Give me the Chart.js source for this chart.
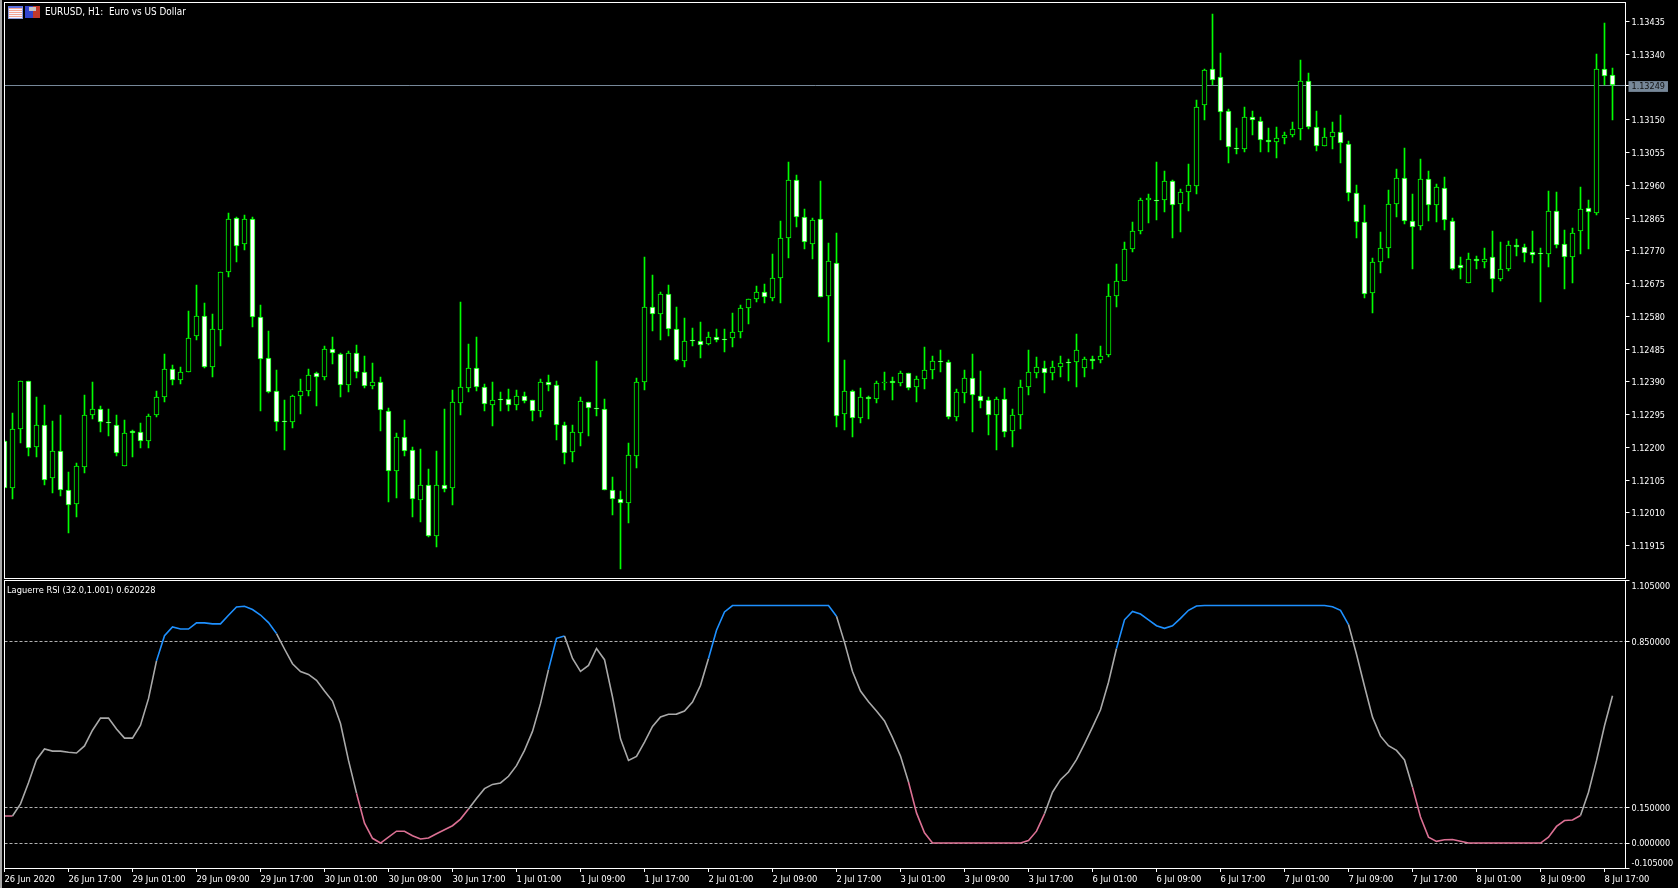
<!DOCTYPE html>
<html>
<head>
<meta charset="utf-8">
<title>EURUSD, H1</title>
<script src="https://cdn.jsdelivr.net/npm/chart.js@4/dist/chart.umd.min.js"></script>
<style>
  html, body { margin: 0; background: #000; overflow: hidden; }
  canvas { position: absolute; left: 0; }
  .caption { position: absolute; color: #fff; font: 9.9px 'DejaVu Sans Condensed', 'DejaVu Sans', sans-serif; white-space: pre; line-height: 12px; }
  #edge { position: absolute; left: 0; top: 0; width: 2px; height: 888px; background: #a8a8a8; }
  #iconTable { position: absolute; left: 8px; top: 6px; width: 13px; height: 10px; border: 1px solid #8f9bd8; border-top: 2px solid #5a6ee0; background: repeating-linear-gradient(#f3a493 0 1px, #f5f5ff 1px 2px); }
  #iconTools { position: absolute; left: 25px; top: 6px; width: 15px; height: 12px; background: linear-gradient(90deg, #3344cc 0 50%, #c0392b 50% 100%); }
  #iconTools::before { content: ''; position: absolute; left: 4px; top: 1px; width: 7px; height: 4px; background: #c4c4c4; }
</style>
</head>
<body>
<div id="edge"></div>
<canvas id="priceChart" width="1678" height="580" style="top:0"></canvas>
<canvas id="rsiChart" width="1678" height="308" style="top:580px"></canvas>
<div id="iconTable"></div>
<div id="iconTools"></div>
<div class="caption" style="left:45px;top:6px">EURUSD, H1:  Euro vs US Dollar</div>
<div class="caption" style="left:7px;top:584px;font-size:9.2px">Laguerre RSI (32.0,1.001) 0.620228</div>
<script>
const opens = [
  1.12216,1.12081,1.12253,1.12392,1.12200,1.12265,1.12110,1.12189,1.12074,1.12035,
  1.12143,1.12294,1.12311,1.12271,1.12265,1.12146,1.12245,1.12244,1.12217,1.12294,
  1.12346,1.12427,1.12395,1.12418,1.12523,1.12581,1.12433,1.12540,1.12708,1.12863,
  1.12789,1.12861,1.12578,1.12459,1.12363,1.12273,1.12273,1.12349,1.12363,1.12413,
  1.12404,1.12485,1.12468,1.12381,1.12473,1.12418,1.12378,1.12387,1.12305,1.12129,
  1.12230,1.12192,1.12046,1.12091,1.11943,1.12091,1.12081,1.12328,1.12371,1.12430,
  1.12375,1.12322,1.12337,1.12340,1.12322,1.12349,1.12337,1.12304,1.12387,1.12381,
  1.12265,1.12184,1.12239,1.12331,1.12313,1.12311,1.12076,1.12050,1.12036,1.12175,
  1.12389,1.12607,1.12584,1.12644,1.12543,1.12450,1.12508,1.12508,1.12497,1.12520,
  1.12513,1.12516,1.12533,1.12603,1.12629,1.12650,1.12632,1.12690,1.12806,1.12974,
  1.12867,1.12789,1.12861,1.12638,1.12734,1.12296,1.12363,1.12284,1.12345,1.12339,
  1.12386,1.12392,1.12386,1.12415,1.12374,1.12397,1.12423,1.12450,1.12447,1.12287,
  1.12357,1.12400,1.12348,1.12337,1.12293,1.12339,1.12246,1.12293,1.12374,1.12415,
  1.12429,1.12415,1.12432,1.12444,1.12447,1.12429,1.12455,1.12452,1.12467,1.12638,
  1.12681,1.12774,1.12826,1.12916,1.12916,1.12916,1.12971,1.12904,1.12939,1.12957,
  1.13192,1.13296,1.13273,1.13174,1.13067,1.13064,1.13157,1.13145,1.13090,1.13085,
  1.13096,1.13105,1.13122,1.13261,1.13128,1.13073,1.13099,1.13113,1.13079,1.12937,
  1.12853,1.12647,1.12737,1.12777,1.12905,1.12980,1.12856,1.12841,1.12977,1.12902,
  1.12951,1.12856,1.12728,1.12676,1.12745,1.12737,1.12751,1.12687,1.12716,1.12786,
  1.12780,1.12766,1.12763,1.12760,1.12885,1.12789,1.12751,1.12827,1.12893,1.12879,
  1.13296,1.13279
];
const highs = [
  1.12220,1.12298,1.12392,1.12392,1.12344,1.12321,1.12274,1.12292,1.12127,1.12153,
  1.12352,1.12387,1.12318,1.12309,1.12292,1.12277,1.12248,1.12269,1.12295,1.12361,
  1.12469,1.12437,1.12431,1.12595,1.12669,1.12616,1.12585,1.12708,1.12877,1.12867,
  1.12871,1.12867,1.12611,1.12535,1.12422,1.12335,1.12352,1.12396,1.12425,1.12416,
  1.12492,1.12518,1.12473,1.12477,1.12495,1.12463,1.12444,1.12404,1.12312,1.12240,
  1.12277,1.12199,1.12193,1.12135,1.12188,1.12309,1.12364,1.12619,1.12498,1.12518,
  1.12382,1.12387,1.12359,1.12367,1.12364,1.12359,1.12337,1.12396,1.12408,1.12390,
  1.12272,1.12263,1.12344,1.12331,1.12448,1.12338,1.12112,1.12072,1.12211,1.12399,
  1.12750,1.12698,1.12648,1.12669,1.12605,1.12573,1.12544,1.12561,1.12532,1.12541,
  1.12541,1.12587,1.12611,1.12630,1.12668,1.12671,1.12758,1.12856,1.13027,1.12987,
  1.12891,1.12865,1.12972,1.12790,1.12819,1.12451,1.12366,1.12372,1.12349,1.12390,
  1.12416,1.12404,1.12419,1.12415,1.12407,1.12491,1.12465,1.12480,1.12451,1.12369,
  1.12422,1.12468,1.12419,1.12346,1.12346,1.12372,1.12310,1.12395,1.12482,1.12462,
  1.12448,1.12448,1.12465,1.12456,1.12526,1.12462,1.12465,1.12494,1.12671,1.12729,
  1.12795,1.12853,1.12923,1.12934,1.13027,1.13001,1.12975,1.12949,1.13019,1.13207,
  1.13296,1.13456,1.13341,1.13181,1.13126,1.13187,1.13175,1.13158,1.13126,1.13129,
  1.13114,1.13143,1.13323,1.13283,1.13175,1.13126,1.13141,1.13161,1.13086,1.12958,
  1.12900,1.12749,1.12822,1.12946,1.13007,1.13068,1.12932,1.13036,1.13001,1.12961,
  1.12984,1.12865,1.12752,1.12761,1.12755,1.12778,1.12825,1.12793,1.12796,1.12804,
  1.12787,1.12825,1.12778,1.12943,1.12938,1.12828,1.12836,1.12955,1.12917,1.13338,
  1.13430,1.13300
];
const lows = [
  1.12081,1.12048,1.12211,1.12174,1.12170,1.12089,1.12066,1.12057,1.11950,1.11996,
  1.12124,1.12280,1.12242,1.12231,1.12173,1.12145,1.12170,1.12196,1.12196,1.12286,
  1.12330,1.12379,1.12382,1.12417,1.12509,1.12428,1.12402,1.12492,1.12692,1.12736,
  1.12772,1.12548,1.12303,1.12356,1.12245,1.12190,1.12254,1.12295,1.12347,1.12318,
  1.12393,1.12440,1.12344,1.12359,1.12399,1.12370,1.12367,1.12245,1.12040,1.12051,
  1.12173,1.11996,1.11982,1.11938,1.11909,1.12069,1.12031,1.12292,1.12359,1.12361,
  1.12303,1.12260,1.12303,1.12303,1.12306,1.12327,1.12274,1.12286,1.12361,1.12219,
  1.12150,1.12156,1.12202,1.12231,1.12289,1.12074,1.12002,1.11846,1.11979,1.12138,
  1.12364,1.12535,1.12509,1.12521,1.12448,1.12431,1.12492,1.12457,1.12495,1.12503,
  1.12474,1.12489,1.12515,1.12556,1.12619,1.12616,1.12624,1.12616,1.12749,1.12839,
  1.12775,1.12746,1.12635,1.12503,1.12259,1.12248,1.12230,1.12268,1.12282,1.12326,
  1.12366,1.12337,1.12378,1.12366,1.12329,1.12369,1.12398,1.12416,1.12280,1.12274,
  1.12326,1.12242,1.12314,1.12236,1.12190,1.12229,1.12199,1.12253,1.12352,1.12401,
  1.12355,1.12393,1.12404,1.12390,1.12375,1.12404,1.12427,1.12442,1.12462,1.12607,
  1.12680,1.12764,1.12816,1.12848,1.12859,1.12882,1.12807,1.12824,1.12885,1.12934,
  1.13149,1.13250,1.13091,1.13022,1.13048,1.13056,1.13103,1.13054,1.13056,1.13039,
  1.13077,1.13100,1.13091,1.13123,1.13059,1.13073,1.13065,1.13022,1.12914,1.12807,
  1.12631,1.12587,1.12703,1.12749,1.12868,1.12845,1.12715,1.12828,1.12854,1.12851,
  1.12828,1.12712,1.12686,1.12676,1.12715,1.12720,1.12648,1.12680,1.12709,1.12755,
  1.12735,1.12732,1.12619,1.12723,1.12778,1.12659,1.12674,1.12758,1.12775,1.12871,
  1.13250,1.13149
];
const closes = [
  1.12081,1.12253,1.12392,1.12198,1.12265,1.12105,1.12187,1.12076,1.12033,1.12146,
  1.12294,1.12311,1.12271,1.12270,1.12181,1.12239,1.12239,1.12218,1.12291,1.12346,
  1.12427,1.12395,1.12418,1.12517,1.12581,1.12433,1.12543,1.12708,1.12861,1.12783,
  1.12861,1.12578,1.12456,1.12360,1.12273,1.12272,1.12349,1.12363,1.12410,1.12404,
  1.12485,1.12471,1.12381,1.12473,1.12418,1.12378,1.12387,1.12308,1.12131,1.12230,
  1.12187,1.12050,1.12091,1.11943,1.12091,1.12079,1.12329,1.12375,1.12430,1.12375,
  1.12325,1.12337,1.12336,1.12323,1.12349,1.12333,1.12305,1.12387,1.12380,1.12265,
  1.12181,1.12242,1.12334,1.12313,1.12311,1.12076,1.12050,1.12036,1.12178,1.12389,
  1.12607,1.12584,1.12644,1.12543,1.12453,1.12508,1.12507,1.12496,1.12520,1.12511,
  1.12511,1.12534,1.12604,1.12630,1.12650,1.12635,1.12690,1.12806,1.12974,1.12867,
  1.12794,1.12858,1.12635,1.12739,1.12290,1.12363,1.12284,1.12345,1.12339,1.12386,
  1.12389,1.12386,1.12415,1.12371,1.12397,1.12423,1.12450,1.12447,1.12287,1.12360,
  1.12400,1.12351,1.12334,1.12293,1.12339,1.12244,1.12293,1.12374,1.12418,1.12432,
  1.12415,1.12432,1.12444,1.12443,1.12481,1.12455,1.12450,1.12464,1.12638,1.12681,
  1.12774,1.12826,1.12916,1.12922,1.12913,1.12971,1.12902,1.12939,1.12960,1.13186,
  1.13293,1.13264,1.13171,1.13070,1.13064,1.13157,1.13148,1.13090,1.13085,1.13096,
  1.13105,1.13122,1.13261,1.13128,1.13073,1.13099,1.13113,1.13082,1.12937,1.12853,
  1.12644,1.12737,1.12777,1.12905,1.12980,1.12856,1.12838,1.12977,1.12902,1.12954,
  1.12858,1.12716,1.12719,1.12745,1.12740,1.12745,1.12687,1.12716,1.12786,1.12780,
  1.12763,1.12757,1.12760,1.12885,1.12786,1.12751,1.12821,1.12890,1.12882,1.13296,
  1.13276,1.13249
];
const rsiValues = [
  0.114,0.114,0.165,0.254,0.351,0.396,0.387,0.387,0.382,0.379,
  0.409,0.475,0.526,0.526,0.480,0.442,0.442,0.496,0.608,0.767,
  0.873,0.910,0.901,0.901,0.927,0.927,0.923,0.923,0.959,0.994,
  0.997,0.983,0.960,0.928,0.882,0.817,0.755,0.722,0.710,0.685,
  0.640,0.598,0.503,0.348,0.210,0.084,0.020,0.000,0.025,0.050,
  0.050,0.031,0.017,0.021,0.039,0.056,0.073,0.101,0.143,0.188,
  0.229,0.247,0.253,0.281,0.326,0.390,0.470,0.587,0.730,0.862,
  0.872,0.777,0.723,0.748,0.819,0.772,0.615,0.439,0.348,0.365,
  0.425,0.491,0.531,0.542,0.543,0.556,0.594,0.664,0.777,0.896,
  0.973,1.000,1.000,1.000,1.000,1.000,1.000,1.000,1.000,1.000,
  1.000,1.000,1.000,1.000,0.955,0.845,0.722,0.640,0.595,0.556,
  0.514,0.444,0.366,0.257,0.127,0.043,0.000,0.000,0.000,0.000,
  0.000,0.000,0.000,0.000,0.000,0.000,0.000,0.000,0.011,0.050,
  0.123,0.214,0.267,0.299,0.351,0.418,0.488,0.561,0.677,0.819,
  0.940,0.975,0.964,0.940,0.915,0.904,0.915,0.946,0.980,0.998,
  1.000,1.000,1.000,1.000,1.000,1.000,1.000,1.000,1.000,1.000,
  1.000,1.000,1.000,1.000,1.000,1.000,0.995,0.980,0.920,0.795,
  0.660,0.530,0.450,0.410,0.390,0.350,0.235,0.110,0.025,0.007,
  0.014,0.015,0.008,0.000,0.000,0.000,0.000,0.000,0.000,0.000,
  0.000,0.000,0.000,0.025,0.070,0.095,0.097,0.116,0.214,0.347,
  0.494,0.620228
];
const priceTicks = [
  1.13435, 1.13340, 1.13249, 1.13150, 1.13055, 1.12960, 1.12865, 1.12770,
  1.12675, 1.12580, 1.12485, 1.12390, 1.12295, 1.12200, 1.12105, 1.12010, 1.11915
];
const lastPrice = 1.13249;
const rsiTicks = [1.105, 0.85, 0.15, 0, -0.105];
const rsiLevels = [0.85, 0.15, 0];
const timeLabels = [
  '26 Jun 2020', '26 Jun 17:00', '29 Jun 01:00', '29 Jun 09:00', '29 Jun 17:00',
  '30 Jun 01:00', '30 Jun 09:00', '30 Jun 17:00', '1 Jul 01:00', '1 Jul 09:00',
  '1 Jul 17:00', '2 Jul 01:00', '2 Jul 09:00', '2 Jul 17:00', '3 Jul 01:00',
  '3 Jul 09:00', '3 Jul 17:00', '6 Jul 01:00', '6 Jul 09:00', '6 Jul 17:00',
  '7 Jul 01:00', '7 Jul 09:00', '7 Jul 17:00', '8 Jul 01:00', '8 Jul 09:00', '8 Jul 17:00'
];
const barsPerLabel = 8;

const GREEN = '#00ff00';
const FONT_FAMILY = "'DejaVu Sans Condensed', 'DejaVu Sans', sans-serif";
const lastBarSlot = 202.625;

// white box round the plot area, on all four sides
const framePlugin = {
  id: 'frame',
  afterDraw(chart) {
    const { left, top, right, bottom } = chart.chartArea;
    const x0 = Math.floor(left) + 0.5;
    const y0 = Math.floor(top) + 0.5;
    chart.ctx.save();
    chart.ctx.strokeStyle = '#fff';
    chart.ctx.lineWidth = 1;
    chart.ctx.strokeRect(x0, y0, Math.floor(right) + 0.5 - x0, Math.floor(bottom) + 0.5 - y0);
    chart.ctx.restore();
  },
};

// tick labels must not push the plot area in, the panes are pinned
function dropLabelPadding(scale) {
  scale.paddingTop = 0;
  scale.paddingBottom = 0;
  scale.paddingLeft = 0;
  scale.paddingRight = 0;
}

// the terminal draws on whole pixels, so candle edges should too
function snapToPixels(scale) {
  if (scale.snapped) return;
  scale.snapped = true;
  const exact = scale.getPixelForValue;
  scale.getPixelForValue = (value, index) => Math.floor(exact.call(scale, value, index));
}

const bars = opens.map((_, i) => i);

new Chart(document.getElementById('priceChart'), {
  type: 'bar',
  data: {
    datasets: [
      {
        data: bars.map((i) => ({ x: i, y: [Math.min(opens[i], closes[i]), Math.max(opens[i], closes[i])] })),
        backgroundColor: bars.map((i) => (closes[i] >= opens[i] ? '#000' : '#fff')),
        borderColor: GREEN,
        borderWidth: 1,
        borderSkipped: false,
        barThickness: 5,
        barPercentage: 1,
        minBarLength: 1,
        grouped: false,
      },
      {
        data: bars.map((i) => ({ x: i, y: [lows[i], highs[i]] })),
        backgroundColor: GREEN,
        barThickness: 1,
        barPercentage: 1,
        grouped: false,
      },
    ],
  },
  options: {
    responsive: false,
    animation: false,
    devicePixelRatio: 1,
    layout: { autoPadding: false, padding: { left: 4.5, top: 2.5, bottom: 1.5, right: 0 } },
    plugins: { legend: { display: false }, tooltip: { enabled: false } },
    scales: {
      x: { type: 'linear', offset: false, min: 0, max: lastBarSlot, display: false },
      y: {
        position: 'right',
        min: 1.1182,
        max: 1.1349,
        afterFit(scale) {
          scale.width = 52.5;
          dropLabelPadding(scale);
          snapToPixels(scale);
        },
        afterBuildTicks(scale) {
          scale.ticks = priceTicks.map((value) => ({ value }));
        },
        border: { display: false },
        grid: {
          color: (ctx) => (ctx.tick && ctx.tick.value === lastPrice ? '#778899' : 'transparent'),
          tickColor: '#fff',
          tickLength: 4,
        },
        ticks: {
          autoSkip: false,
          padding: 2,
          labelOffset: 1.5,
          font: { family: FONT_FAMILY, size: 9 },
          color: (ctx) => (ctx.tick.value === lastPrice ? '#111' : '#fff'),
          showLabelBackdrop: (ctx) => ctx.tick.value === lastPrice,
          backdropColor: '#778899',
          backdropPadding: { x: 3, y: 0 },
          callback: (value) => value.toFixed(5),
        },
      },
    },
  },
  plugins: [framePlugin],
});

new Chart(document.getElementById('rsiChart'), {
  type: 'line',
  data: {
    datasets: [
      {
        data: rsiValues.map((y, x) => ({ x, y })),
        borderWidth: 1.6,
        borderColor: '#a9a9a9',
        pointRadius: 0,
        tension: 0,
        segment: {
          borderColor: (ctx) => {
            if (ctx.p1.parsed.y > 0.85) return '#1e90ff';
            if (ctx.p1.parsed.y < 0.15) return '#db7093';
            return '#a9a9a9';
          },
        },
      },
    ],
  },
  options: {
    responsive: false,
    animation: false,
    devicePixelRatio: 1,
    layout: { autoPadding: false, padding: { left: 4.5, top: 0.6, bottom: 0, right: 0 } },
    plugins: { legend: { display: false }, tooltip: { enabled: false } },
    scales: {
      x: {
        type: 'linear',
        min: 0,
        max: lastBarSlot,
        afterFit(scale) {
          scale.height = 20;
          dropLabelPadding(scale);
        },
        afterBuildTicks(scale) {
          scale.ticks = timeLabels.map((_, i) => ({ value: i * barsPerLabel }));
        },
        border: { display: false },
        grid: { drawOnChartArea: false, tickColor: '#fff', tickLength: 4 },
        ticks: {
          autoSkip: false,
          maxRotation: 0,
          align: 'start',
          padding: 2,
          font: { family: FONT_FAMILY, size: 9.3 },
          color: '#fff',
          callback: (value, i) => timeLabels[i],
        },
      },
      y: {
        position: 'right',
        min: -0.105,
        max: 1.105,
        afterFit(scale) {
          scale.width = 52.5;
          dropLabelPadding(scale);
        },
        afterBuildTicks(scale) {
          scale.ticks = rsiTicks.map((value) => ({ value }));
        },
        border: { display: false, dash: [3, 2] },
        grid: {
          color: (ctx) => (ctx.tick && rsiLevels.includes(ctx.tick.value) ? '#b0b0b0' : 'transparent'),
          tickColor: '#fff',
          tickLength: 4,
        },
        ticks: {
          autoSkip: false,
          padding: 2,
          labelOffset: 1,
          font: { family: FONT_FAMILY, size: 9 },
          color: '#fff',
          // top and bottom labels sit inside the pane, a blank line pushes them in
          callback: (value) => {
            const label = value.toFixed(6);
            if (value === 1.105) return ['', label];
            if (value === -0.105) return [label, ''];
            return label;
          },
        },
      },
    },
  },
  plugins: [framePlugin],
});
</script>
</body>
</html>
